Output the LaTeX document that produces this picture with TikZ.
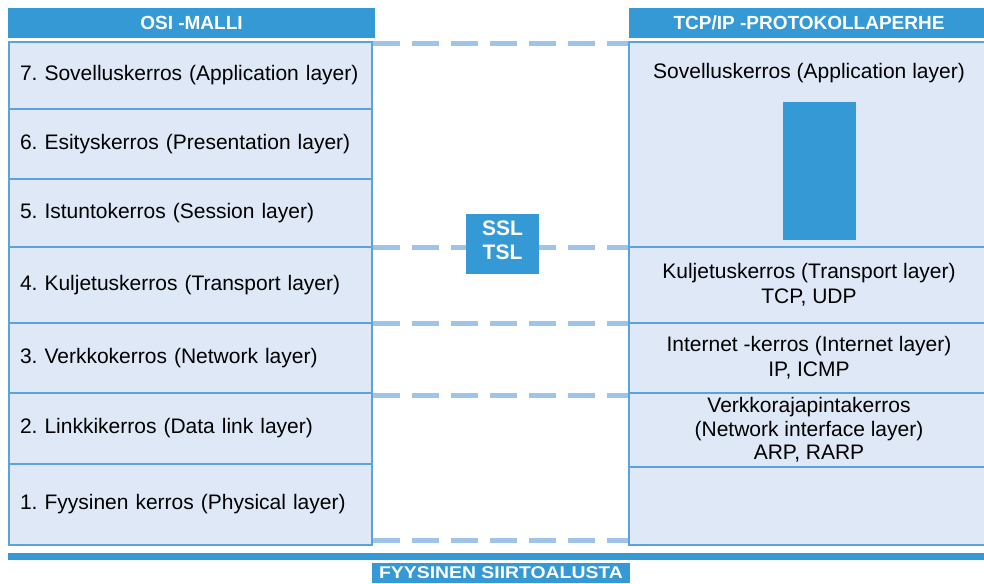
\documentclass[tikz,border=0pt]{standalone}
\usepackage{fontspec}
\setmainfont{Liberation Sans}
\usepackage{tikz}
\usetikzlibrary{positioning}
\usepackage{xcolor}
\definecolor{headblue}{RGB}{52, 153, 213}
\definecolor{layerfill}{RGB}{222, 232, 246}
\definecolor{layerline}{RGB}{91, 163, 219}
\definecolor{dashblue}{RGB}{160, 196, 232}
\frenchspacing

\tikzset{
  header/.style={fill=headblue, text=white, font=\fontsize{19}{22}\selectfont\bfseries,
    minimum height=30pt, inner sep=0pt, outer sep=0pt, anchor=north west},
  osilayer/.style={draw=layerline, line width=1.2pt, fill=layerfill, anchor=north west,
    text width=341pt, align=left, inner xsep=11pt, inner ysep=0pt, outer sep=0pt},
  tcplayer/.style={draw=layerline, line width=1.2pt, fill=layerfill, anchor=north west,
    minimum width=360pt, align=center, inner sep=0pt, outer sep=0pt},
  layerlink/.style={dashblue, line width=5pt, dash pattern=on 27pt off 12pt,
    shorten <=1pt, shorten >=1pt},
}

\begin{document}
\begin{tikzpicture}[x=1pt, y=-1pt, font=\fontsize{21}{25}\selectfont]
  \useasboundingbox (0,0) rectangle (984,583);

  % headers
  \node[header, minimum width=367pt] (osihead) at (8,8) {OSI -MALLI};
  \node[header, minimum width=360pt] (tcphead) at (629,8) {TCP/IP -PROTOKOLLAPERHE};

  % OSI model
  \node[osilayer, minimum height=67pt] (osi7) at (9,42) {7. Sovelluskerros (Application layer)};
  \node[osilayer, minimum height=70pt, below=0pt of osi7] (osi6) {6. Esityskerros (Presentation layer)};
  \node[osilayer, minimum height=68pt, below=0pt of osi6] (osi5) {5. Istuntokerros (Session layer)};
  \node[osilayer, minimum height=76pt, below=0pt of osi5] (osi4) {4. Kuljetuskerros (Transport layer)};
  \node[osilayer, minimum height=70pt, below=0pt of osi4] (osi3) {3. Verkkokerros (Network layer)};
  \node[osilayer, minimum height=71pt, below=0pt of osi3] (osi2) {2. Linkkikerros (Data link layer)};
  \node[osilayer, minimum height=81pt, below=0pt of osi2] (osi1) {1. Fyysinen kerros (Physical layer)};

  % TCP/IP suite
  \node[tcplayer, minimum height=205pt] (tcpapp) at (629,42) {};
  \node[tcplayer, minimum height=76pt, below=0pt of tcpapp] (tcptrans)
    {Kuljetuskerros (Transport layer)\\TCP, UDP};
  \node[tcplayer, minimum height=70pt, below=0pt of tcptrans] (tcpnet)
    {Internet -kerros (Internet layer)\\IP, ICMP};
  \node[tcplayer, minimum height=74pt, below=0pt of tcpnet, font=\fontsize{21}{23.5}\selectfont] (tcplink)
    {Verkkorajapintakerros\\(Network interface layer)\\ARP, RARP};
  \node[tcplayer, minimum height=78pt, below=0pt of tcplink] (tcpphys) {};
  \node[inner sep=0pt, below=21pt of tcpapp.north] (apptext) {Sovelluskerros (Application layer)};
  \node[fill=headblue, inner sep=0pt, minimum width=73pt, minimum height=138pt, anchor=north west]
    (appbar) at (783,102) {};

  % dashed links between the two models
  \draw[layerlink] ([yshift=-2pt]osi7.north east) -- ([yshift=-2pt]tcpapp.north west);
  \draw[layerlink] (osi4.north east) -- (tcptrans.north west);
  \draw[layerlink] (osi3.north east) -- (tcpnet.north west);
  \draw[layerlink] ([yshift=-2pt]osi2.north east) -- ([yshift=-2pt]tcplink.north west);
  \draw[layerlink] ([yshift=5pt]osi1.south east) -- ([yshift=5pt]tcpphys.south west);

  \node[fill=headblue, text=white, font=\fontsize{21}{24}\selectfont\bfseries, align=center,
    minimum width=73pt, minimum height=60pt, text depth=8pt, inner sep=0pt] (ssl) at (502.5,244) {SSL\\TSL};

  % transmission medium
  \node[fill=headblue, inner sep=0pt, minimum width=976pt, minimum height=7pt, anchor=north west]
    (medium) at (8,553) {};
  \node[fill=headblue, inner sep=0pt, minimum width=258pt, minimum height=20pt] (mediumlabel) at (501,573) {};
  \node[text=white, font=\fontsize{17}{20}\selectfont\bfseries, inner sep=0pt, xscale=1.14]
    at (mediumlabel) {FYYSINEN SIIRTOALUSTA};
\end{tikzpicture}
\end{document}
